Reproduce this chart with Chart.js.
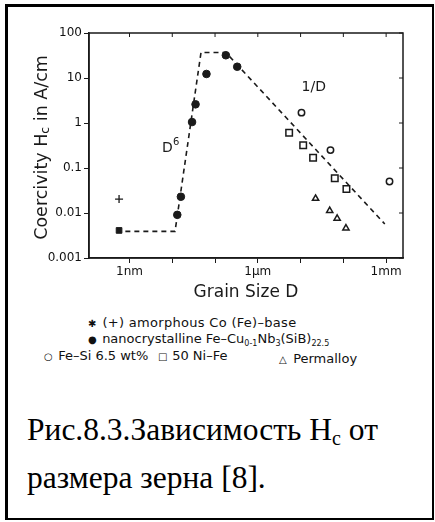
<!DOCTYPE html>
<html>
<head>
<meta charset="utf-8">
<script src="https://cdn.jsdelivr.net/npm/chart.js@4.4.1/dist/chart.umd.min.js"></script>
<style>
  html, body { margin: 0; padding: 0; background: #fff; }
  #page { position: relative; width: 435px; height: 522px; overflow: hidden; }
  #frame { position: absolute; left: 5px; top: 4px; width: 429px; height: 516px; box-sizing: border-box;
           border: 3px solid #000; border-right-width: 2px; border-bottom-width: 2px; }
  #chart { position: absolute; left: 0; top: 0; }
  .leg { position: absolute; font: 13px "DejaVu Sans", sans-serif; color: #111; white-space: nowrap; line-height: 16px; }
  .leg sub { font-size: 8px; vertical-align: -3px; }
  .sym { display: inline-block; width: 10px; font-size: 10px; }
  #caption { position: absolute; left: 27px; top: 406px; font: 31.5px "Liberation Serif", "Times New Roman", serif;
             line-height: 48px; color: #000; white-space: nowrap; }
  #caption sub { font-size: 20px; vertical-align: -5px; line-height: 0; }
</style>
</head>
<body>
<div id="page">
  <div id="frame"></div>
  <canvas id="chart" width="435" height="300"></canvas>
  <div class="leg" style="left:88px; top:315px; letter-spacing:0.3px;"><span class="sym">✱</span> (+) amorphous Co (Fe)–base</div>
  <div class="leg" style="left:88px; top:331px;"><span class="sym">●</span> nanocrystalline Fe–Cu<sub>0-1</sub>Nb<sub>3</sub>(SiB)<sub>22.5</sub></div>
  <div class="leg" style="left:44px; top:348px;"><span class="sym">○</span> Fe–Si 6.5 wt%</div>
  <div class="leg" style="left:158px; top:348px;"><span class="sym">□</span> 50 Ni–Fe</div>
  <div class="leg" style="left:279px; top:351px;"><span class="sym">△</span> Permalloy</div>
  <div id="caption">Рис.8.3.Зависимость H<sub>c</sub> от<br>размера зерна [8].</div>
</div>
<script>
// grain size D in nm, coercivity Hc in A/cm
const amorphousSqD = [0.57];
const amorphousSqHc = [0.0041];
const amorphousPlusD = [0.57];
const amorphousPlusHc = [0.0204];
const nanoD = [13.1, 15.9, 29, 35, 63, 179, 330];
const nanoHc = [0.0091, 0.023, 1.05, 2.6, 12.3, 32, 17.8];
const feSiD = [10500, 50000, 1200000];
const feSiHc = [1.7, 0.25, 0.05];
const niFeD = [5400, 11500, 19600, 63000, 118000];
const niFeHc = [0.61, 0.32, 0.17, 0.059, 0.034];
const permD = [22400, 48000, 71600, 115000];
const permHc = [0.021, 0.0113, 0.0076, 0.0046];
const trendD = [0.8, 11.6, 47, 178, 930000];
const trendHc = [0.0039, 0.0039, 37, 37, 0.0057];

const xTicks = [1, 10, 100, 1e3, 1e4, 1e5, 1e6];
const xTickLabels = ['1nm', '', '', '1µm', '', '', '1mm'];
const yTicks = [0.001, 0.01, 0.1, 1, 10, 100];
const yTickLabels = ['0.001', '0.01', '0.1', '1', '10', '100'];
const xRange = [0.113, 2.48e6];
const yRange = [0.001, 100];

const labelD = [18000, 8.8];
const labelHc = [6.2, 0.3];

const ink = '#1a1a1a';
const pts = (xs, ys) => xs.map((x, i) => ({ x: x, y: ys[i] }));

const framePlugin = {
  id: 'framePlugin',
  afterDraw(chart) {
    const { ctx, chartArea: a, scales } = chart;
    ctx.save();
    ctx.strokeStyle = ink;
    ctx.lineWidth = 1.5;
    ctx.strokeRect(a.left, a.top, a.right - a.left, a.bottom - a.top);
    // inward ticks on top and right
    ctx.lineWidth = 1;
    ctx.beginPath();
    xTicks.forEach(v => {
      const px = scales.x.getPixelForValue(v);
      ctx.moveTo(px, a.top); ctx.lineTo(px, a.top + 4);
    });
    yTicks.forEach(v => {
      const py = scales.y.getPixelForValue(v);
      ctx.moveTo(a.right, py); ctx.lineTo(a.right - 4, py);
    });
    ctx.stroke();

    ctx.fillStyle = ink;
    ctx.textBaseline = 'middle';
    // x title
    ctx.font = '17px "DejaVu Sans"';
    ctx.textAlign = 'center';
    ctx.fillText('Grain Size D', (a.left + a.right) / 2, 293);
    // y title with subscript
    ctx.save();
    ctx.translate(42, (a.top + a.bottom) / 2 + 2);
    ctx.rotate(-Math.PI / 2);
    const big = '17.5px "DejaVu Sans"', small = '12.5px "DejaVu Sans"';
    const parts = [['Coercivity H', big, 0], ['c', small, 4], [' in A/cm', big, 0]];
    let total = 0;
    parts.forEach(p => { ctx.font = p[1]; total += ctx.measureText(p[0]).width; });
    let x = -total / 2;
    ctx.textAlign = 'left';
    parts.forEach(p => {
      ctx.font = p[1];
      ctx.fillText(p[0], x, p[2]);
      x += ctx.measureText(p[0]).width;
    });
    ctx.restore();

    // slope labels
    ctx.textAlign = 'left';
    ctx.font = '14px "DejaVu Sans"';
    let lx = scales.x.getPixelForValue(labelD[0]);
    let ly = scales.y.getPixelForValue(labelHc[0]);
    ctx.fillText('1/D', lx - 10, ly);
    lx = scales.x.getPixelForValue(labelD[1]);
    ly = scales.y.getPixelForValue(labelHc[1]);
    ctx.fillText('D', lx - 8, ly + 2);
    ctx.font = '10px "DejaVu Sans"';
    ctx.fillText('6', lx + 3, ly - 4);
    ctx.restore();
  }
};

const tickFont = { family: 'DejaVu Sans', size: 12 };

new Chart(document.getElementById('chart'), {
  type: 'scatter',
  data: {
    datasets: [
      { label: 'amorphous Co (Fe)-base', data: pts(amorphousSqD, amorphousSqHc), pointStyle: 'rect',
        pointRadius: 4, backgroundColor: ink, borderColor: ink, borderWidth: 1 },
      { label: '(+) amorphous', data: pts(amorphousPlusD, amorphousPlusHc), pointStyle: 'cross',
        pointRadius: 4, borderColor: ink, borderWidth: 1.3 },
      { label: 'nanocrystalline Fe-Cu-Nb-(SiB)', data: pts(nanoD, nanoHc), pointStyle: 'circle',
        pointRadius: 3.8, backgroundColor: ink, borderColor: ink, borderWidth: 1 },
      { label: 'Fe-Si 6.5 wt%', data: pts(feSiD, feSiHc), pointStyle: 'circle',
        pointRadius: 3.2, backgroundColor: '#fff', borderColor: ink, borderWidth: 1.5 },
      { label: '50 Ni-Fe', data: pts(niFeD, niFeHc), pointStyle: 'rect',
        pointRadius: 4.6, backgroundColor: '#fff', borderColor: ink, borderWidth: 1.5 },
      { label: 'Permalloy', data: pts(permD, permHc), pointStyle: 'triangle',
        pointRadius: 3.6, backgroundColor: '#fff', borderColor: ink, borderWidth: 1.5 },
      { label: 'trend', data: pts(trendD, trendHc), showLine: true, pointRadius: 0,
        borderColor: ink, borderWidth: 1.6, borderDash: [5, 4], fill: false }
    ]
  },
  options: {
    responsive: false,
    animation: false,
    devicePixelRatio: 1,
    layout: { padding: { left: 0, top: 33, right: 32, bottom: 0 } },
    plugins: { legend: { display: false }, tooltip: { enabled: false } },
    scales: {
      x: {
        type: 'logarithmic',
        min: xRange[0],
        max: xRange[1],
        afterBuildTicks: s => { s.ticks = xTicks.map(v => ({ value: v })); },
        afterFit: s => { s.height = 42; },
        ticks: { callback: (v, i) => xTickLabels[i], font: tickFont, color: '#111',
                 padding: 2, maxRotation: 0, autoSkip: false },
        grid: { drawOnChartArea: false, tickLength: 5, color: ink },
        border: { color: ink, width: 1.5 }
      },
      y: {
        type: 'logarithmic',
        min: yRange[0],
        max: yRange[1],
        afterBuildTicks: s => { s.ticks = yTicks.map(v => ({ value: v })); },
        afterFit: s => { s.width = 89; },
        ticks: { callback: (v, i) => yTickLabels[i], font: tickFont, color: '#111',
                 padding: 2, autoSkip: false },
        grid: { drawOnChartArea: false, tickLength: 5, color: ink },
        border: { color: ink, width: 1.5 }
      }
    }
  },
  plugins: [framePlugin]
});
</script>
</body>
</html>
